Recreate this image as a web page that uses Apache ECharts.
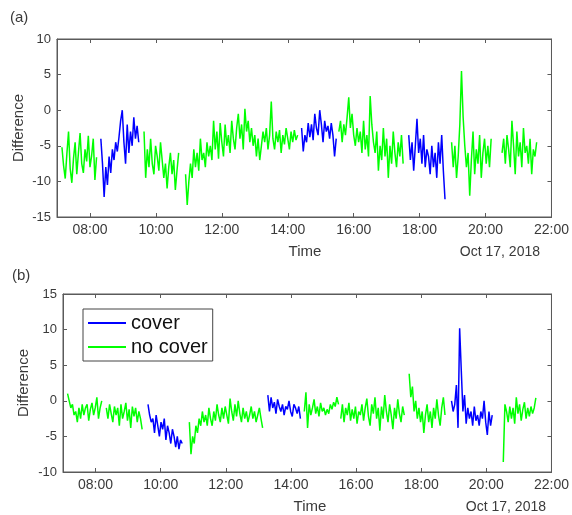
<!DOCTYPE html>
<html><head><meta charset="utf-8">
<script src="https://cdn.jsdelivr.net/npm/echarts@6/dist/echarts.min.js"></script>
<style>html,body{margin:0;padding:0;background:#fff}#c{width:572px;height:515px}</style>
</head><body><div id="c"></div>
<script>
// ---- axes / ticks ----
const xTickValues = [8, 10, 12, 14, 16, 18, 20, 22];
const xTickLabels = ['08:00', '10:00', '12:00', '14:00', '16:00', '18:00', '20:00', '22:00'];
const xTopTicks = [8, 10, 12, 14, 16, 18, 20];
const dateText = 'Oct 17, 2018';
const sampleStepHours = 0.05; // 3-minute samples

// ---- panel (a): segment start times (hours) and kinds ----
const aStarts = [7.15, 8.33, 9.64, 10.90, 14.42, 15.55, 17.67, 18.97, 20.50];
const aKinds = ['no cover', 'cover', 'no cover', 'no cover', 'cover', 'no cover', 'cover', 'no cover', 'no cover'];
const a1 = [-5.2,-7.8,-9.6,-6.1,-3.0,-8.2,-10.2,-6.8,-4.5,-9.0,-6.0,-3.2,-7.5,-8.8,-5.5,-7.2,-3.6,-8.0,-6.4,-4.0,-9.8,-6.6];
const a2 = [-4.0,-7.5,-12.2,-8.0,-10.5,-6.5,-8.8,-5.5,-7.0,-4.5,-5.8,-3.8,-1.5,0.0,-4.5,-7.5,-2.0,-6.0,-3.0,-5.0,-1.0,-4.0,-2.2,-4.5];
const a3 = [-3.0,-9.5,-5.5,-8.0,-4.0,-7.5,-9.0,-5.0,-6.5,-8.5,-4.5,-7.0,-9.5,-7.5,-11.0,-8.0,-6.0,-9.0,-7.0,-11.2,-8.5,-6.0];
const a4 = [-9.0,-13.3,-10.0,-7.5,-9.5,-5.5,-8.0,-6.0,-8.5,-4.0,-7.0,-6.0,-8.0,-4.5,-6.5,-5.0,-7.0,-1.5,-5.5,-3.0,
            -6.8,-1.8,-4.5,-6.5,-2.0,-5.0,-3.5,-6.0,-1.5,-4.0,-5.5,-2.5,-0.5,-4.0,-2.0,-5.5,0.2,-3.0,-1.5,-4.5,
            -2.5,-5.0,-3.5,-6.5,-4.0,-7.0,-5.0,-3.0,-4.5,-2.5,-5.5,-3.5,1.2,-4.0,-5.5,-3.0,-4.5,-2.8,-6.0,-3.5,
            -4.8,-2.5,-4.0,-5.5,-3.0,-4.5,-2.8,-4.2,-3.5];
const a5 = [-2.5,-5.8,-3.5,-4.5,-1.8,-3.8,-2.0,-4.2,-0.5,-2.5,-3.5,0.0,-2.0,-4.5,-1.5,-3.0,-2.2,-4.0,-1.8,-3.5,-6.5,-4.0];
const a6 = [-3.0,-1.5,-4.5,-2.0,-3.5,-1.0,1.8,-2.5,-0.5,-3.5,-5.0,-2.5,-4.5,-3.0,-6.0,-1.5,-5.5,-3.5,-6.5,2.0,
            -2.0,-4.5,-6.0,-3.0,-8.5,-5.0,-7.0,-2.5,-6.5,-4.0,-9.5,-5.0,-7.5,-3.0,-6.0,-8.0,-4.5,-6.5,-3.5,-7.5];
const a7 = [-3.5,-7.0,-4.5,-8.5,-5.0,-1.2,-6.0,-4.0,-7.5,-3.5,-8.0,-5.5,-6.5,-9.0,-5.0,-8.0,-6.0,-9.5,-4.5,-7.5,-3.5,-8.5,-12.5];
const a8 = [-4.5,-8.0,-5.0,-9.5,-6.5,-2.0,5.5,-1.0,-5.0,-8.0,-6.0,-12.0,-7.0,-3.0,-9.0,-5.5,-7.5,-3.5,-9.5,-6.0,-4.0,-7.5,-5.0,-8.0,-4.0];
const a9 = [-6.0,-4.0,-7.5,-3.5,-5.5,-8.0,-1.5,-5.0,-9.0,-3.0,-6.5,-4.5,-8.0,-2.5,-6.0,-5.0,-7.5,-4.0,-9.0,-5.5,-6.5,-4.5];

// ---- panel (b) ----
const bStarts = [7.14, 8.33, 9.61, 10.88, 13.29, 14.41, 15.53, 17.63, 18.93, 20.52];
const bKinds = ['no cover', 'no cover', 'cover', 'no cover', 'cover', 'no cover', 'no cover', 'no cover', 'cover', 'no cover'];
const b1 = [1.0,0.0,-1.0,-0.5,-2.0,-1.5,-3.0,-1.0,-2.5,-0.5,-2.0,-1.0,-0.5,-2.8,-1.2,-0.3,-2.0,-1.0,0.5,-2.5,-1.0,0.0];
const b2 = [-1.0,-2.5,-0.5,-1.8,-3.0,-0.8,-2.0,-1.0,-3.5,-0.5,-2.5,-1.5,-0.3,-2.8,-1.2,-3.8,-0.8,-2.2,-1.0,-3.0,-1.5,-2.5,-4.0];
const b3 = [-0.5,-2.0,-3.0,-2.5,-4.5,-2.0,-3.5,-5.0,-3.0,-4.0,-2.5,-5.5,-3.5,-4.5,-6.0,-4.0,-5.0,-6.5,-5.0,-6.8,-5.5,-6.0];
const b4 = [-3.0,-7.5,-5.0,-6.0,-3.5,-4.5,-2.5,-3.5,-1.5,-3.0,-2.0,-3.5,-1.0,-2.5,-3.5,-1.5,-2.8,-0.5,-2.0,-3.0,
            -1.0,-2.5,-0.8,-2.0,-3.2,0.3,-1.5,-2.8,-0.5,-2.2,0.0,-1.8,-3.0,-1.0,-2.5,-1.5,-3.0,-2.0,-0.8,-2.5,
            -1.5,-3.0,-2.0,-1.0,-2.5,-3.8];
const b5 = [0.8,-1.5,0.5,-1.0,-0.2,-1.8,0.2,-0.8,-1.5,-0.5,-2.0,-0.8,-1.2,0.0,-1.5,-2.2,-0.5,-1.0,-1.8,-0.8,-2.5];
const b6 = [-1.5,1.2,-3.8,-0.5,-2.0,-1.0,0.2,-1.8,-0.8,-2.2,-0.3,-1.5,-1.0,-2.0,-1.2,-1.8,-0.5,-1.2,-0.2,-0.8,0.5,-0.5];
const b7 = [-2.5,-0.5,-3.0,-1.0,-2.0,-0.3,-2.8,-1.2,-2.5,-0.8,-3.2,-1.5,-2.0,-0.5,-2.8,-1.0,0.3,-2.2,-3.5,-0.5,
            -1.8,0.5,-2.5,-1.0,-4.2,-0.8,-2.5,0.8,-1.5,-3.0,-0.5,-2.0,-4.0,-1.0,-2.5,0.2,-1.8,-3.0,-0.8,-2.0];
const b8 = [3.8,0.5,2.0,-1.5,0.0,-2.5,-1.0,-3.0,-1.5,-4.5,-2.0,-0.5,-3.0,-1.5,-3.8,-1.0,-2.5,0.2,-2.0,-3.5,-1.0,0.5,-2.0];
const b9 = [0.0,-1.5,-0.5,2.2,-3.8,10.2,4.3,-1.5,0.8,-3.2,-1.0,-2.5,-1.5,-3.5,-0.8,-2.8,-2.0,-3.5,-1.5,-2.5,0.0,-3.0,-4.8,-1.5,-3.5,-2.0];
const b10 = [-8.6,-0.5,-1.5,-3.0,-0.8,-2.5,-1.0,-3.2,0.5,-1.8,-0.5,-2.8,-1.2,-0.2,-2.5,-1.0,-2.2,-0.8,-1.8,-1.0,0.4];

const aSegs = [a1, a2, a3, a4, a5, a6, a7, a8, a9];
const bSegs = [b1, b2, b3, b4, b5, b6, b7, b8, b9, b10];

const COLORS = { 'cover': '#0000ff', 'no cover': '#00ff00' };
const AXIS = '#5a5a5a';
const TXT = '#3a3a3a';
const FONT = '"Liberation Sans", Arial, sans-serif';

function buildSeries(segs, starts, kinds, axisIdx) {
  return segs.map((vals, k) => ({
    type: 'line', name: kinds[k], xAxisIndex: axisIdx, yAxisIndex: axisIdx,
    data: vals.map((v, i) => [starts[k] + i * sampleStepHours, v]),
    showSymbol: false, symbol: 'none', color: COLORS[kinds[k]],
    lineStyle: { width: 1.5, color: COLORS[kinds[k]] }, silent: true, animation: false, z: 3
  }));
}

function bottomX(grid) {
  return {
    type: 'value', gridIndex: grid, min: 7, max: 22, position: 'bottom',
    axisLine: { show: true, onZero: false, lineStyle: { color: AXIS, width: 1 } },
    axisTick: { show: true, inside: true, length: 4, customValues: xTickValues, lineStyle: { color: AXIS } },
    axisLabel: { customValues: xTickValues, formatter: v => xTickLabels[xTickValues.indexOf(v)],
      fontSize: 14, color: TXT, margin: 6, fontFamily: FONT },
    splitLine: { show: false }
  };
}
function topX(grid) {
  return {
    type: 'value', gridIndex: grid, min: 7, max: 22, position: 'top',
    axisLine: { show: true, onZero: false, lineStyle: { color: AXIS, width: 1 } },
    axisTick: { show: true, inside: true, length: 4, customValues: xTopTicks, lineStyle: { color: AXIS } },
    axisLabel: { show: false }, splitLine: { show: false }
  };
}
function leftY(grid, min, max) {
  return {
    type: 'value', gridIndex: grid, min: min, max: max, interval: 5, position: 'left',
    axisLine: { show: true, onZero: false, lineStyle: { color: AXIS, width: 1 } },
    axisTick: { show: true, inside: true, length: 4, lineStyle: { color: AXIS } },
    axisLabel: { fontSize: 13, color: TXT, margin: 6, fontFamily: FONT },
    splitLine: { show: false }
  };
}
function rightY(grid, min, max) {
  return {
    type: 'value', gridIndex: grid, min: min, max: max, interval: 5, position: 'right',
    axisLine: { show: true, onZero: false, lineStyle: { color: AXIS, width: 1 } },
    axisTick: { show: true, inside: true, length: 4, lineStyle: { color: AXIS } },
    axisLabel: { show: false }, splitLine: { show: false }
  };
}

function txt(text, x, y, size, align, rot) {
  return { type: 'text', x: x, y: y, rotation: rot || 0,
    style: { text: text, font: size + 'px ' + FONT, fill: TXT, align: align || 'center', verticalAlign: 'middle' } };
}

const chart = echarts.init(document.getElementById('c'), null, { renderer: 'canvas' });
chart.setOption({
  animation: false,
  backgroundColor: '#ffffff',
  grid: [
    { left: 57, top: 39, width: 496, height: 178, show: true, borderColor: AXIS, borderWidth: 1, backgroundColor: 'transparent' },
    { left: 63, top: 294, width: 494, height: 178, show: true, borderColor: AXIS, borderWidth: 1, backgroundColor: 'transparent' }
  ],
  xAxis: [bottomX(0), topX(0), bottomX(1), topX(1)],
  yAxis: [leftY(0, -15, 10), rightY(0, -15, 10), leftY(1, -10, 15), rightY(1, -10, 15)],
  legend: {
    data: ['cover', 'no cover'], orient: 'vertical', left: 83, top: 309,
    icon: 'rect', itemWidth: 38, itemHeight: 2, itemGap: 4,
    padding: [4, 5, 4, 5], borderColor: '#444', borderWidth: 1, backgroundColor: '#fff',
    textStyle: { fontSize: 20, color: '#111', fontFamily: FONT }, selectedMode: false
  },
  graphic: [
    txt('(a)', 10, 18, 15, 'left'),
    txt('(b)', 12, 276, 15, 'left'),
    txt('Difference', 19, 128, 15, 'center', Math.PI / 2),
    txt('Difference', 24, 383, 15, 'center', Math.PI / 2),
    txt('Time', 305, 252, 15),
    txt('Time', 310, 507, 15),
    txt(dateText, 540, 252, 14, 'right'),
    txt(dateText, 546, 507, 14, 'right')
  ],
  series: [].concat(buildSeries(aSegs, aStarts, aKinds, 0), buildSeries(bSegs, bStarts, bKinds, 2))
});
</script></body></html>
